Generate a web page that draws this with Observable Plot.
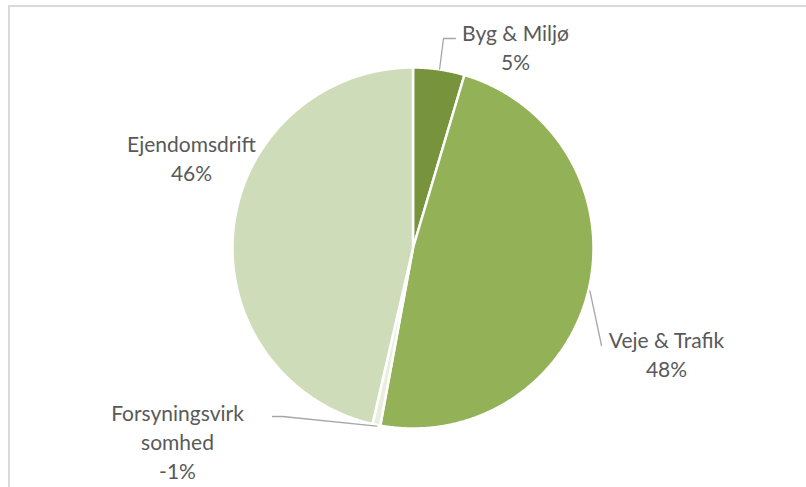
<!DOCTYPE html>
<html>
<head>
<meta charset="utf-8">
<script src="https://cdn.jsdelivr.net/npm/d3@7"></script>
<script src="https://cdn.jsdelivr.net/npm/@observablehq/plot@0.6"></script>
<style>
  html, body { margin: 0; padding: 0; background: #fff; overflow: hidden; }
  #wrap { position: relative; width: 806px; height: 487px; overflow: hidden; }
  #frame { position: absolute; left: 8px; top: 5px; width: 820px; height: 510px; border: 2px solid #d9d9d9; box-sizing: border-box; pointer-events: none; }
  #chart { position: absolute; left: 0; top: 0; }
</style>
</head>
<body>
<div id="wrap"><div id="chart"></div><div id="frame"></div></div>
<script>
// ---- data ----
const categories = ["Byg & Miljø", "Veje & Trafik", "Forsyningsvirksomhed", "Ejendomsdrift"];
const values = [4.6, 48.3, -0.7, 46.4];            // percent shares (negative shown by absolute size)
const labelNames = ["Byg & Miljø", "Veje & Trafik", "Forsyningsvirk\nsomhed", "Ejendomsdrift"];
const colors = ["#77933c", "#93b157", "#e9efdc", "#cfdcb9"];

// ---- layout (pixels) ----
const W = 806, H = 487;
const CX = 413, CY = 248, R = 180.5;
const labelAt = [[515, 46], [666, 353], [177, 440.5], [191, 156.5]];
const leaderElbows = [[[443, 38], [455, 38]], [[601, 345]], [[282, 416], [272, 416]], null];

const px = (x) => (x - CX) / R;
const py = (y) => (CY - y) / R;

const pie = d3.pie().sort(null).value((d) => Math.abs(d));
const arcs = pie(values);

// wedge polygons
const wedgePts = [];
arcs.forEach((a, i) => {
  const n = Math.max(2, Math.ceil((a.endAngle - a.startAngle) / 0.005));
  for (let k = 0; k <= n; k++) {
    const t = a.startAngle + (a.endAngle - a.startAngle) * k / n;
    wedgePts.push({ name: categories[i], x: Math.sin(t), y: Math.cos(t), cx: 0, cy: 0 });
  }
});

// labels
const labels = arcs.map((a, i) => ({
  name: categories[i],
  text: labelNames[i] + "\n" + Math.round(values[i]) + "%",
  x: px(labelAt[i][0]),
  y: py(labelAt[i][1])
}));

// leader lines
const leaders = [];
arcs.forEach((a, i) => {
  if (!leaderElbows[i]) return;
  const m = (a.startAngle + a.endAngle) / 2;
  leaders.push({ id: i, x: 1.005 * Math.sin(m), y: 1.005 * Math.cos(m) });
  leaderElbows[i].forEach(([ex, ey]) => leaders.push({ id: i, x: px(ex), y: py(ey) }));
});

const chart = Plot.plot({
  width: W,
  height: H,
  margin: 0,
  x: { domain: [px(0), px(W)], axis: null },
  y: { domain: [py(H), py(0)], axis: null },
  color: { domain: categories, range: colors },
  style: { background: "#fff", fontFamily: "Lato, sans-serif" },
  marks: [
    Plot.area(wedgePts, {
      x1: "x", y1: "y", x2: "cx", y2: "cy", z: "name",
      fill: "name", stroke: "#fff", strokeWidth: 2.5, strokeLinejoin: "miter"
    }),
    Plot.line(leaders, { x: "x", y: "y", z: "id", stroke: "#a6a6a6", strokeWidth: 1.3 }),
    Plot.text(labels, {
      x: "x", y: "y", text: "text",
      fontSize: 21, lineHeight: 1.38, fill: "#595959", textAnchor: "middle",
      fontFamily: "Lato, sans-serif"
    })
  ]
});
document.getElementById("chart").appendChild(chart);
</script>
</body>
</html>
